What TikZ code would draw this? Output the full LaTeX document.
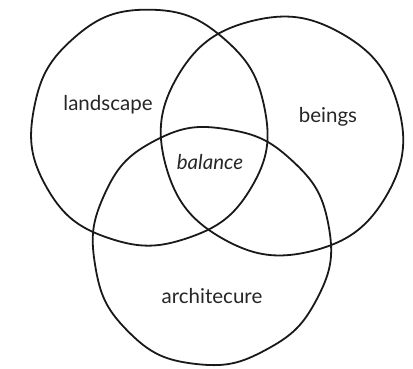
\documentclass[tikz,border=0pt]{standalone}
\usepackage{fontspec}
\setmainfont{Lato}
\begin{document}
\begin{tikzpicture}[x=1pt,y=-1pt,
  ring/.style={draw=black!90, line width=1.8pt, line join=round},
  lbl/.style={font=\fontsize{20.5}{22}\selectfont, text=black!85, inner sep=0pt}]
\useasboundingbox (0,0) rectangle (413,368);
% landscape circle
\draw[ring] plot[domain=0:357.5, samples=144, smooth cycle]
  ({149+(118+1*sin(3*\x+20)+0.6*sin(9*\x))*cos(\x)},{128+(118+1*sin(3*\x+20)+0.6*sin(9*\x))*sin(\x)});
% beings circle
\draw[ring] plot[domain=0:357.5, samples=144, smooth cycle]
  ({282+(120+1*sin(2*\x+60)+0.6*sin(8*\x+30))*cos(\x)},{136+(120+1*sin(2*\x+60)+0.6*sin(8*\x+30))*sin(\x)});
% architecture circle
\draw[ring] plot[domain=0:357.5, samples=144, smooth cycle]
  ({211+(119+1*sin(3*\x+100)+0.6*sin(10*\x+10))*cos(\x)},{246+(119+1*sin(3*\x+100)+0.6*sin(10*\x+10))*sin(\x)});
\node[lbl] (land) at (108,105) {landscape};
\node[lbl] (being) at (328,117) {beings};
\node[lbl] (bal) at (210,162) {\itshape balance};
\node[lbl] (arch) at (212,296) {architecure};
\end{tikzpicture}
\end{document}
